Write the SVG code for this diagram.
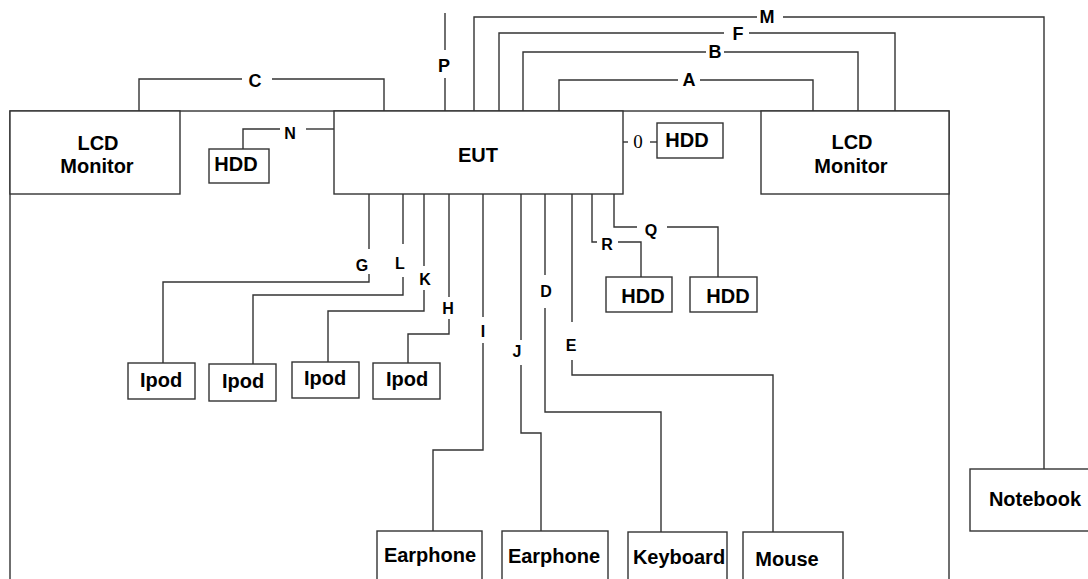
<svg xmlns="http://www.w3.org/2000/svg" width="1088" height="579" viewBox="0 0 1088 579">
<style>
.box{fill:#fff;stroke:#333;stroke-width:1.4}
.ln{fill:none;stroke:#333;stroke-width:1.4}
.t{font-family:"Liberation Sans",Arial,sans-serif;font-weight:bold;font-size:20px;fill:#000;text-anchor:middle}
.lb{font-family:"Liberation Sans",Arial,sans-serif;font-weight:bold;font-size:18px;fill:#000;text-anchor:middle}
.ls{font-family:"Liberation Sans",Arial,sans-serif;font-weight:bold;font-size:16px;fill:#000;text-anchor:middle}
.lo{font-family:"Liberation Serif","Times New Roman",serif;font-size:19px;fill:#000;text-anchor:middle}
</style>
<rect width="1088" height="579" fill="#fff"/>
<g id="frame"><rect class="box" x="10" y="111" width="939" height="500" fill="none"/></g>
<g id="connectors">
<polyline class="ln" points="139,111 139,79 242,79"/><polyline class="ln" points="272,79 384,79 384,111"/>
<polyline class="ln" points="445,13 445,50"/><polyline class="ln" points="445,78 445,111"/>
<polyline class="ln" points="474,111 474,17 757,17"/><polyline class="ln" points="783,17 1044,17 1044,469"/>
<polyline class="ln" points="499,111 499,33 724,33"/><polyline class="ln" points="749,33 895,33 895,111"/>
<polyline class="ln" points="523,111 523,52 706,52"/><polyline class="ln" points="724,52 858,52 858,111"/>
<polyline class="ln" points="559,111 559,80 678,80"/><polyline class="ln" points="700,80 813,80 813,111"/>
<polyline class="ln" points="334,129 306,129"/><polyline class="ln" points="280,129 243,129 243,149"/>
<polyline class="ln" points="623,142 628,142"/><polyline class="ln" points="650,142 657,142"/>
<polyline class="ln" points="369,194 369,249"/><polyline class="ln" points="369,274 369,282 163,282 163,363"/>
<polyline class="ln" points="403,194 403,244"/><polyline class="ln" points="403,277 403,295 253,295 253,364"/>
<polyline class="ln" points="424,194 424,266"/><polyline class="ln" points="424,290 424,311 328,311 328,362"/>
<polyline class="ln" points="449,194 449,297"/><polyline class="ln" points="449,319 449,334 408,334 408,363"/>
<polyline class="ln" points="483,194 483,317"/><polyline class="ln" points="483,343 483,450 433,450 433,531"/>
<polyline class="ln" points="521,194 521,340"/><polyline class="ln" points="521,365 521,433 541,433 541,531"/>
<polyline class="ln" points="545,194 545,275"/><polyline class="ln" points="545,308 545,412 661,412 661,532"/>
<polyline class="ln" points="572,194 572,322"/><polyline class="ln" points="572,360 572,375 773,375 773,532"/>
<polyline class="ln" points="592,194 592,242 597,242"/><polyline class="ln" points="618,242 641,242 641,277"/>
<polyline class="ln" points="614,194 614,227 637,227"/><polyline class="ln" points="667,227 718,227 718,277"/>
<text class="lb" x="255" y="87">C</text>
<text class="lb" x="444" y="72">P</text>
<text class="lb" x="767" y="23">M</text>
<text class="lb" x="738" y="40">F</text>
<text class="lb" x="715" y="58">B</text>
<text class="lb" x="689" y="86">A</text>
<text class="ls" x="290" y="139">N</text>
<text class="lo" x="638" y="148">0</text>
<text class="ls" x="362" y="271">G</text>
<text class="ls" x="400" y="269">L</text>
<text class="ls" x="425" y="285">K</text>
<text class="ls" x="448" y="314">H</text>
<text class="ls" x="483" y="337">I</text>
<text class="ls" x="517" y="357">J</text>
<text class="ls" x="546" y="297">D</text>
<text class="ls" x="571" y="351">E</text>
<text class="ls" x="607" y="250">R</text>
<text class="ls" x="651" y="236">Q</text>
</g>
<g id="lcd-left"><rect class="box" x="10" y="111" width="170" height="83"/><text class="t" x="98" y="150">LCD</text><text class="t" x="97" y="173">Monitor</text></g>
<g id="eut"><rect class="box" x="334" y="111" width="289" height="83"/><text class="t" x="478" y="162">EUT</text></g>
<g id="lcd-right"><rect class="box" x="761" y="111" width="188" height="83"/><text class="t" x="852" y="149">LCD</text><text class="t" x="851" y="173">Monitor</text></g>
<g id="hdd-n"><rect class="box" x="209" y="149" width="60" height="34"/><text class="t" x="236" y="171">HDD</text></g>
<g id="hdd-o"><rect class="box" x="657" y="123" width="66" height="35"/><text class="t" x="687" y="147">HDD</text></g>
<g id="hdd-r"><rect class="box" x="606" y="277" width="66" height="35"/><text class="t" x="643" y="303">HDD</text></g>
<g id="hdd-q"><rect class="box" x="690" y="277" width="67" height="35"/><text class="t" x="728" y="303">HDD</text></g>
<g id="ipod1"><rect class="box" x="128" y="363" width="67" height="36"/><text class="t" x="161" y="387">Ipod</text></g>
<g id="ipod2"><rect class="box" x="209" y="364" width="67" height="37"/><text class="t" x="243" y="388">Ipod</text></g>
<g id="ipod3"><rect class="box" x="292" y="362" width="67" height="36"/><text class="t" x="325" y="385">Ipod</text></g>
<g id="ipod4"><rect class="box" x="373" y="363" width="67" height="36"/><text class="t" x="407" y="386">Ipod</text></g>
<g id="earphone1"><rect class="box" x="377" y="531" width="105" height="60"/><text class="t" x="430" y="562">Earphone</text></g>
<g id="earphone2"><rect class="box" x="502" y="531" width="106" height="60"/><text class="t" x="554" y="563">Earphone</text></g>
<g id="keyboard"><rect class="box" x="628" y="532" width="99" height="60"/><text class="t" x="679" y="564">Keyboard</text></g>
<g id="mouse"><rect class="box" x="743" y="532" width="100" height="60"/><text class="t" x="787" y="566">Mouse</text></g>
<g id="notebook"><rect class="box" x="970" y="469" width="125" height="62"/><text class="t" x="1035" y="506">Notebook</text></g>
</svg>
